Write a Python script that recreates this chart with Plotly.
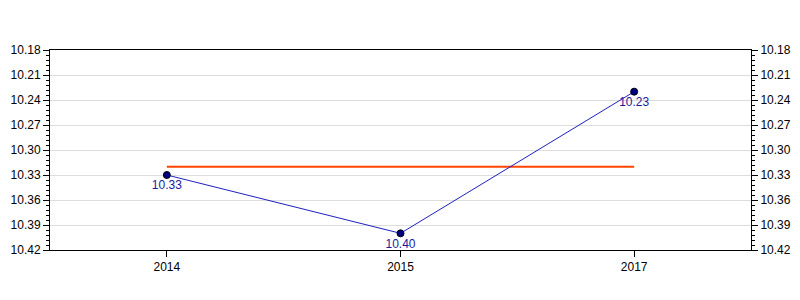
import plotly.graph_objects as go

years = ["2014", "2015", "2017"]
values = [10.33, 10.40, 10.23]
mean_value = 10.32
y_ticks = [10.18, 10.21, 10.24, 10.27, 10.30, 10.33, 10.36, 10.39, 10.42]

fig = go.Figure()

fig.add_trace(go.Scatter(
    x=years, y=[mean_value] * len(years), mode="lines",
    line=dict(color="#FF4500", width=2), hoverinfo="skip", showlegend=False,
))

fig.add_trace(go.Scatter(
    x=years, y=values, mode="lines+markers+text",
    text=[f"{v:.2f}" for v in values], textposition="bottom center",
    textfont=dict(family="Liberation Sans, Arial", size=12, color="#1a1a9a"),
    line=dict(color="#1f1fbf", width=1),
    marker=dict(color="#000080", size=7, line=dict(color="#000000", width=1)),
    showlegend=False,
))

fig.add_trace(go.Scatter(
    x=years, y=values, yaxis="y2", mode="markers",
    marker=dict(opacity=0), hoverinfo="skip", showlegend=False,
))

yaxis_common = dict(
    range=[y_ticks[-1], y_ticks[0]],
    tickmode="array", tickvals=y_ticks, ticktext=[f"{t:.2f}" for t in y_ticks],
    ticks="outside", ticklen=6, tickcolor="black", tickwidth=1,
    minor=dict(dtick=0.006, tick0=10.18, ticks="outside", ticklen=3, tickcolor="black", showgrid=False),
    showline=True, linecolor="black", linewidth=1,
    tickfont=dict(family="Liberation Sans, Arial", size=12, color="black"),
    zeroline=False, automargin=False,
)

fig.update_layout(
    width=800, height=300,
    margin=dict(l=50, r=49, t=50, b=50),
    paper_bgcolor="white", plot_bgcolor="white",
    xaxis=dict(
        type="category", range=[-0.5, 2.5],
        ticks="outside", ticklen=6, tickcolor="black",
        showline=True, linecolor="black", linewidth=1, mirror=True,
        showgrid=False, zeroline=False, automargin=False,
        tickfont=dict(family="Liberation Sans, Arial", size=12, color="black"),
    ),
    yaxis=dict(**yaxis_common, showgrid=True, gridcolor="#dddddd", gridwidth=1, side="left"),
    yaxis2=dict(**yaxis_common, showgrid=False, overlaying="y", side="right"),
)

fig.write_html("out.html")
